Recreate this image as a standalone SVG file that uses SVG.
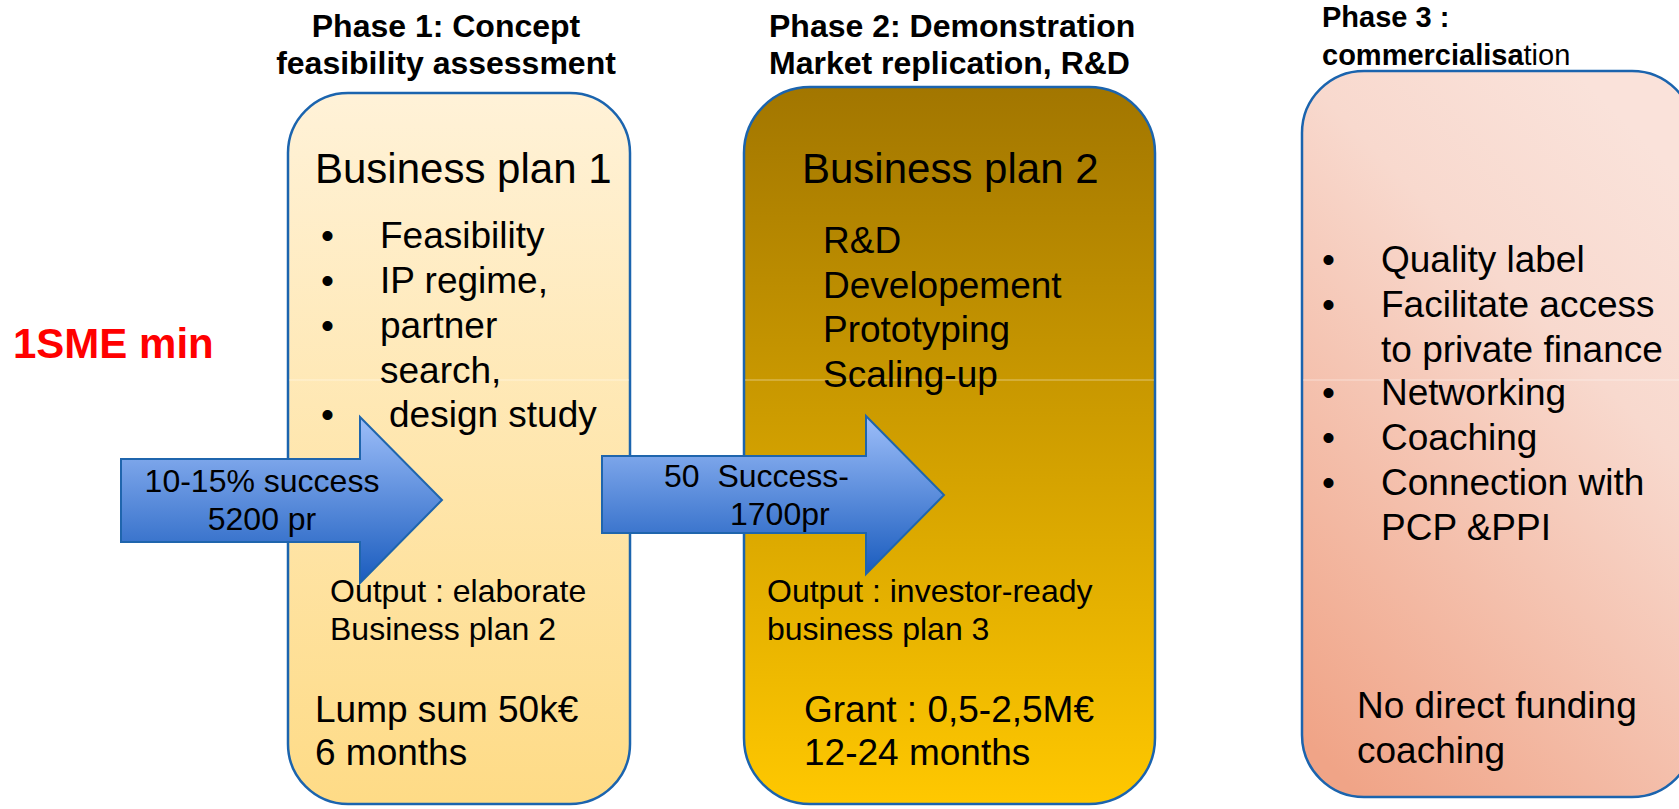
<svg xmlns="http://www.w3.org/2000/svg" width="1679" height="809" viewBox="0 0 1679 809">
<defs>
<linearGradient id="g1" x1="0" y1="0" x2="0" y2="1">
<stop offset="0" stop-color="#FFF2D8"/>
<stop offset="1" stop-color="#FEDB86"/>
</linearGradient>
<linearGradient id="g2" x1="0" y1="0" x2="0" y2="1">
<stop offset="0" stop-color="#A27600"/>
<stop offset="1" stop-color="#FFC800"/>
</linearGradient>
<linearGradient id="g3" x1="0.7" y1="0" x2="0.15" y2="1">
<stop offset="0" stop-color="#FAE2DA"/>
<stop offset="0.3" stop-color="#F8D9CE"/>
<stop offset="1" stop-color="#F0A487"/>
</linearGradient>
<linearGradient id="ga" x1="0" y1="0" x2="0" y2="1">
<stop offset="0" stop-color="#9DBEF9"/>
<stop offset="1" stop-color="#1A5CBE"/>
</linearGradient>
<style>
text{font-family:"Liberation Sans",Arial,sans-serif;fill:#000}
.ttl{font-size:32px;font-weight:bold}
.ttl3{font-size:29px;font-weight:bold}
.hd{font-size:42px}
.b{font-size:37px}
.s{font-size:32px}
.box{stroke:#1B64AE;stroke-width:2.5}
.band{stroke:#FFFFFF;stroke-opacity:0.45;stroke-width:1}
.arr{fill:url(#ga);stroke:#1F65AD;stroke-width:2}
.red{font-size:42px;font-weight:bold;fill:#FF0000}
</style>
</defs>
<rect width="1679" height="809" fill="#FFFFFF"/>

<g id="label-sme">
<text class="red" x="13" y="358">1SME min</text>
</g>

<g id="phase1">
<text class="ttl" x="446" y="37" text-anchor="middle">Phase 1: Concept</text>
<text class="ttl" x="446" y="74" text-anchor="middle">feasibility assessment</text>
<rect class="box" x="288" y="93" width="342" height="711" rx="60" ry="60" fill="url(#g1)"/>
<line class="band" x1="289" y1="380" x2="629" y2="380"/>
<text class="hd" x="315" y="183">Business plan 1</text>
<text class="b" x="321" y="248">•</text>
<text class="b" x="380" y="248">Feasibility</text>
<text class="b" x="321" y="293">•</text>
<text class="b" x="380" y="293">IP regime,</text>
<text class="b" x="321" y="338">•</text>
<text class="b" x="380" y="338">partner</text>
<text class="b" x="380" y="383">search,</text>
<text class="b" x="321" y="427">•</text>
<text class="b" x="389" y="427">design study</text>
<text class="s" x="330" y="602">Output : elaborate</text>
<text class="s" x="330" y="640">Business plan 2</text>
<text class="b" x="315" y="722">Lump sum 50k€</text>
<text class="b" x="315" y="765">6 months</text>
</g>

<g id="phase2">
<text class="ttl" x="769" y="37">Phase 2: Demonstration</text>
<text class="ttl" x="769" y="74">Market replication, R&amp;D</text>
<rect class="box" x="744" y="87" width="411" height="717" rx="66" ry="66" fill="url(#g2)"/>
<line class="band" x1="745" y1="380" x2="1154" y2="380"/>
<text class="hd" x="802" y="183">Business plan 2</text>
<text class="b" x="823" y="253">R&amp;D</text>
<text class="b" x="823" y="298">Developement</text>
<text class="b" x="823" y="342">Prototyping</text>
<text class="b" x="823" y="387">Scaling-up</text>
<text class="s" x="767" y="602">Output : investor-ready</text>
<text class="s" x="767" y="640">business plan 3</text>
<text class="b" x="804" y="722">Grant : 0,5-2,5M€</text>
<text class="b" x="804" y="765">12-24 months</text>
</g>

<g id="phase3">
<text class="ttl3" x="1322" y="27">Phase 3 :</text>
<text class="ttl3" x="1322" y="65">commercialisa<tspan font-weight="normal">tion</tspan></text>
<rect class="box" x="1302" y="71" width="392" height="726" rx="62" ry="62" fill="url(#g3)"/>
<line class="band" x1="1303" y1="380" x2="1679" y2="380"/>
<text class="b" x="1322" y="272">•</text>
<text class="b" x="1381" y="272">Quality label</text>
<text class="b" x="1322" y="317">•</text>
<text class="b" x="1381" y="317">Facilitate access</text>
<text class="b" x="1381" y="362">to private finance</text>
<text class="b" x="1322" y="405">•</text>
<text class="b" x="1381" y="405">Networking</text>
<text class="b" x="1322" y="450">•</text>
<text class="b" x="1381" y="450">Coaching</text>
<text class="b" x="1322" y="495">•</text>
<text class="b" x="1381" y="495">Connection with</text>
<text class="b" x="1381" y="540">PCP &amp;PPI</text>
<text class="b" x="1357" y="718">No direct funding</text>
<text class="b" x="1357" y="763">coaching</text>
</g>

<g id="connectors">
<g id="arrow1">
<polygon class="arr" points="121,459 360,459 360,417 442,500 360,583 360,542 121,542"/>
<text class="s" x="262" y="492" text-anchor="middle">10-15% success</text>
<text class="s" x="262" y="530" text-anchor="middle">5200 pr</text>
</g>
<g id="arrow2">
<polygon class="arr" points="602,456 866,456 866,416 944,495 866,574 866,533 602,533"/>
<text class="s" x="664" y="487" style="white-space:pre">50  Success-</text>
<text class="s" x="730" y="525">1700pr</text>
</g>
</g>
</svg>
